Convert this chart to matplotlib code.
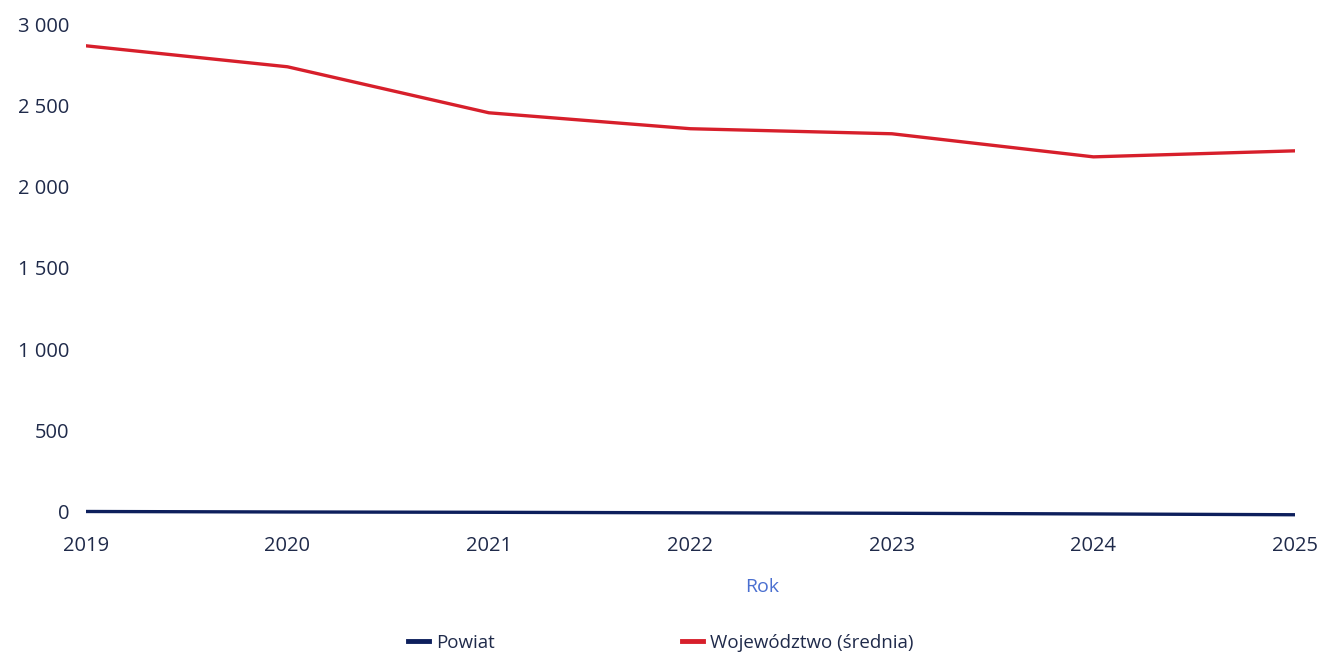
import matplotlib.pyplot as plt
from matplotlib.ticker import FuncFormatter

years = [2019, 2020, 2021, 2022, 2023, 2024, 2025]
powiat = [2, -1, -3, -6, -9, -13, -18]
wojewodztwo = [2866, 2737, 2454, 2356, 2325, 2183, 2220]
labels = ['Powiat', 'Województwo (średnia)']

plt.rcParams['font.family'] = ['Open Sans', 'DejaVu Sans']
TXT = '#1f2a4a'

fig = plt.figure(figsize=(13.22, 6.56), dpi=100)
ax = fig.add_axes([0.065, 0.195, 0.9145, 0.7684])

ax.plot(years, powiat, color='#0d1f5c', lw=2.4, label=labels[0])
ax.plot(years, wojewodztwo, color='#d71f2b', lw=2.4, label=labels[1])

ax.set_xlim(2019, 2025)
ax.set_ylim(-100, 3000)
ax.set_yticks([0, 500, 1000, 1500, 2000, 2500, 3000])
ax.yaxis.set_major_formatter(FuncFormatter(lambda v, p: f'{int(v):,}'.replace(',', ' ')))
ax.set_xticks(years)
for s in ax.spines.values():
    s.set_visible(False)
ax.tick_params(length=0, labelsize=14.5, colors=TXT)
ax.tick_params(axis='x', pad=6)
ax.tick_params(axis='y', pad=12)

fig.text(762 / 1322, 1 - 587 / 656, 'Rok', color='#4a6fd0', fontsize=14, ha='center', va='center')

h, l = ax.get_legend_handles_labels()
leg = fig.legend(h, l, loc='center', bbox_to_anchor=(0.5, 1 - 643 / 656), ncol=2, frameon=False,
                 fontsize=13.5, handlelength=1.1, handletextpad=0.4, columnspacing=10)
for t in leg.get_texts():
    t.set_color(TXT)
for ln in leg.get_lines():
    ln.set_linewidth(3.5)

fig.savefig('out.png', dpi=100)
